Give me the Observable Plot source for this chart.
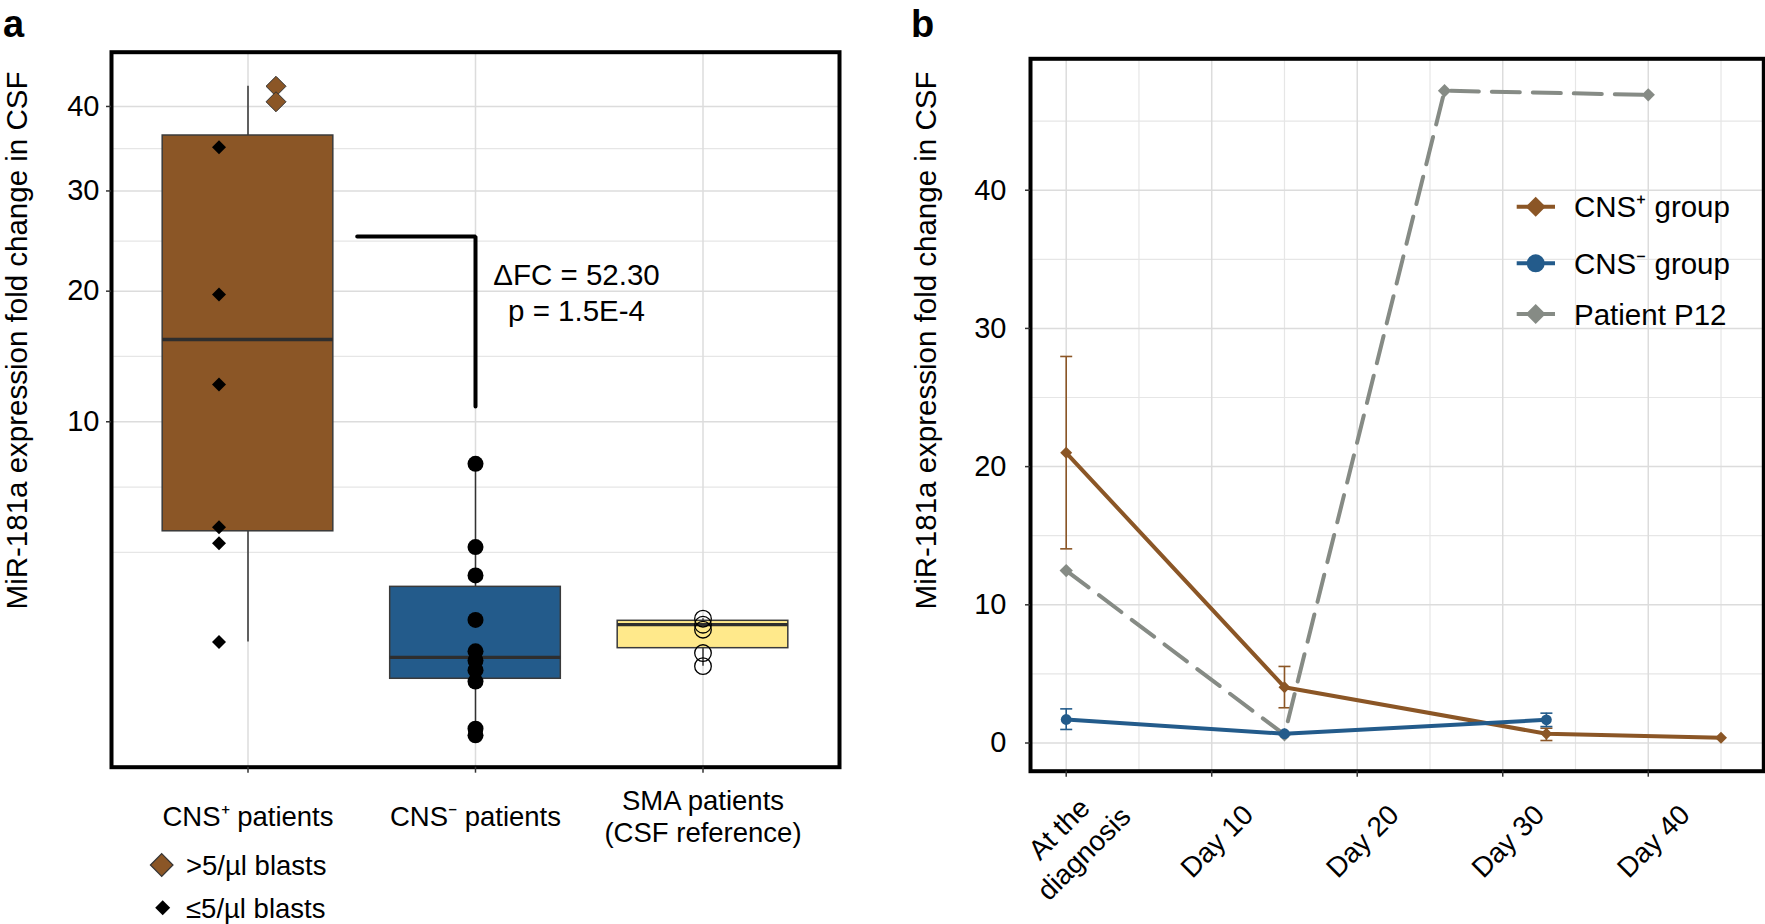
<!DOCTYPE html>
<html><head><meta charset="utf-8">
<script src="https://cdn.jsdelivr.net/npm/d3@7"></script>
<script src="https://cdn.jsdelivr.net/npm/@observablehq/plot@0.6"></script>
<style>
html,body{margin:0;padding:0;background:#fff;}
#root{position:relative;width:1765px;height:924px;overflow:hidden;font-family:"Liberation Sans",Arial,Helvetica,sans-serif;}
#root > svg{position:absolute;top:0;}
</style></head><body><div id="root"></div>
<script>
// ================= DATA: panel a =================
const groupsA = ["CNS\u207A patients", "CNS\u207B patients", "SMA patients\n(CSF reference)"];
const boxLow  = [0.91, 0.0003, 0.506];
const boxQ1   = [4.26, 0.342, 0.795];
const boxMed  = [15.9, 0.64, 1.27];
const boxQ3   = [36.4, 2.27, 1.36];
const boxHigh = [42.6, 7.51, 1.41];
const cnsPosHighBlasts = [42.6, 40.6];                    // >5/µl blasts
const cnsPosLowBlasts  = [35.0, 19.7, 12.5, 4.43, 3.78, 0.91]; // ≤5/µl blasts
const cnsNegValues = [7.51, 3.63, 2.63, 1.38, 0.74, 0.59, 0.45, 0.31, 0.007, 0.0003];
const smaValues = [1.41, 1.27, 1.16, 0.71, 0.506];
const yTicksA = [10, 20, 30, 40];
const bracketX = [1.48, 2, 2];
const bracketY = [25.2, 25.2, 11.0];
const annotText = "\u0394FC = 52.30\np = 1.5E-4";
const annotX = 2.444, annotY = 19.93;

// ================= DATA: panel b =================
const timeTicks  = [0, 10, 20, 30, 40];
const timeLabels = ["At the\ndiagnosis", "Day 10", "Day 20", "Day 30", "Day 40"];
const yTicksB = [0, 10, 20, 30, 40];
const posDays = [0, 15, 33, 45];
const posMean = [21.0, 4.04, 0.67, 0.38];
const posLo   = [14.05, 2.55, 0.18, null];
const posHi   = [27.97, 5.54, 1.07, null];
const negDays = [0, 15, 33];
const negMean = [1.70, 0.67, 1.68];
const negLo   = [0.98, null, 1.19];
const negHi   = [2.47, null, 2.16];
const p12Days = [0, 15, 26, 40];
const p12Val  = [12.48, 0.6, 47.2, 46.9];

// ================= styles =================
const BROWN = "#8b5626", BLUE = "#235b8b", YELLOW = "#ffe98b", GRAY = "#868b85";
const boxFills = [BROWN, BLUE, YELLOW];
const GRID_MAJ = "#dcdcdc", GRID_MIN = "#e6e6e6";
const FONT = '"Liberation Sans", Arial, Helvetica, sans-serif';

// ggplot-like minor breaks (midpoints in transformed space, extended by first step)
function ggMinor(breaks, fwd, inv, domain) {
  const t = breaks.map(fwd);
  const bd = t[1] - t[0];
  const lo = fwd(domain[0]), hi = fwd(domain[1]);
  const b = [...t];
  if (lo < b[0]) b.unshift(b[0] - bd);
  if (hi > b[b.length - 1]) b.push(b[b.length - 1] + bd);
  const out = [];
  for (let i = 0; i < b.length - 1; i++) out.push(b[i], (b[i] + b[i + 1]) / 2);
  out.push(b[b.length - 1]);
  return out.filter(v => v > lo && v < hi && !t.some(m => Math.abs(m - v) < 1e-9)).map(inv);
}
const sqrtF = v => Math.sign(v) * Math.sqrt(Math.abs(v));
const sqrtI = t => Math.sign(t) * t * t;
const idF = v => v;

const root = document.getElementById("root");

// ================= Panel a =================
const domA = [-0.0912, 47.18];
const minorA = ggMinor(yTicksA, sqrtF, sqrtI, domA);
const boxes = groupsA.map((g, i) => ({
  i: i + 1, lo: boxLow[i], q1: boxQ1[i], med: boxMed[i], q3: boxQ3[i], hi: boxHigh[i], fill: boxFills[i]
}));
const bracket = bracketX.map((x, i) => ({x, y: bracketY[i]}));
const HW = 0.375;

const plotA = Plot.plot({
  width: 870, height: 924,
  marginLeft: 111, marginRight: 31, marginTop: 51.7, marginBottom: 157.3,
  style: {background: "transparent", fontFamily: FONT, fontSize: "28px", color: "black", overflow: "visible"},
  x: {domain: [0.4, 3.6], axis: null},
  y: {type: "sqrt", domain: domA, axis: null},
  color: {type: "identity"},
  marks: [
    Plot.ruleY(minorA, {stroke: GRID_MIN, strokeWidth: 1.2}),
    Plot.ruleY(yTicksA, {stroke: GRID_MAJ, strokeWidth: 1.5}),
    Plot.ruleX([1, 2, 3], {stroke: GRID_MAJ, strokeWidth: 1.5}),
    Plot.ruleX(boxes, {x: "i", y1: "lo", y2: "q1", stroke: "#333", strokeWidth: 1.5}),
    Plot.ruleX(boxes, {x: "i", y1: "q3", y2: "hi", stroke: "#333", strokeWidth: 1.5}),
    Plot.rect(boxes, {x1: d => d.i - HW, x2: d => d.i + HW, y1: "q1", y2: "q3", fill: d => d.fill, stroke: "#3a3a3a", strokeWidth: 1.5}),
    Plot.ruleY(boxes, {y: "med", x1: d => d.i - HW, x2: d => d.i + HW, stroke: "#2e2e2e", strokeWidth: 3.3}),
    Plot.dot(cnsPosLowBlasts, {x: d => 1, y: d => d, symbol: "diamond2", r: 6.3, fill: "black", dx: -29}),
    Plot.dot(cnsPosHighBlasts, {x: d => 1, y: d => d, symbol: "diamond2", r: 9, fill: BROWN, stroke: "#333", strokeWidth: 1, dx: 28}),
    Plot.dot(cnsNegValues, {x: d => 2, y: d => d, r: 8, fill: "black"}),
    Plot.dot(smaValues, {x: d => 3, y: d => d, r: 8.3, fill: "none", stroke: "black", strokeWidth: 1.3}),
    Plot.line(bracket, {x: "x", y: "y", stroke: "black", strokeWidth: 4, strokeLinejoin: "miter"}),
    Plot.text([annotText], {x: d => annotX, y: d => annotY, text: d => d, fontSize: 29.5, lineHeight: 1.22, textAnchor: "middle", lineAnchor: "middle", fill: "black"}),
    Plot.frame({stroke: "black", strokeWidth: 4}),
    Plot.axisY(yTicksA, {tickSize: 5, tickPadding: 7, fontSize: 29, stroke: "#333", strokeWidth: 1.5, label: null}),
    Plot.axisX([1, 2, 3], {tickSize: 6, tickPadding: 42.8, fontSize: 27.5, lineAnchor: "middle", lineHeight: 1.17,
      tickFormat: i => groupsA[i - 1], stroke: "#333", strokeWidth: 1.5, label: null})
  ]
});
plotA.style.left = "0px";
root.appendChild(plotA);

// ================= Panel b =================
const domBx = [-2.454, 47.94], domBy = [-2.04, 49.51];
const minorBx = ggMinor(timeTicks, idF, idF, domBx);
const minorBy = ggMinor(yTicksB, idF, idF, domBy);
const pos = posDays.map((d, i) => ({day: d, v: posMean[i], lo: posLo[i], hi: posHi[i]}));
const neg = negDays.map((d, i) => ({day: d, v: negMean[i], lo: negLo[i], hi: negHi[i]}));
const p12 = p12Days.map((d, i) => ({day: d, v: p12Val[i]}));
const posErr = pos.filter(d => d.lo != null);
const negErr = neg.filter(d => d.lo != null);
const capSymbol = {draw(ctx, size) { const w = Math.sqrt(size / Math.PI); ctx.moveTo(-w, 0); ctx.lineTo(w, 0); }};

function errMarks(data, color) {
  return [
    Plot.ruleX(data, {x: "day", y1: "lo", y2: "hi", stroke: color, strokeWidth: 1.6}),
    Plot.dot(data, {x: "day", y: "lo", symbol: capSymbol, r: 6, fill: "none", stroke: color, strokeWidth: 1.6}),
    Plot.dot(data, {x: "day", y: "hi", symbol: capSymbol, r: 6, fill: "none", stroke: color, strokeWidth: 1.6})
  ];
}

const plotB = Plot.plot({
  width: 885, height: 924,
  marginLeft: 150, marginRight: 1.7, marginTop: 58.3, marginBottom: 153.3,
  style: {background: "transparent", fontFamily: FONT, fontSize: "28px", color: "black", overflow: "visible"},
  x: {domain: domBx, axis: null},
  y: {domain: domBy, axis: null},
  marks: [
    Plot.ruleY(minorBy, {stroke: GRID_MIN, strokeWidth: 1.2}),
    Plot.ruleX(minorBx, {stroke: GRID_MIN, strokeWidth: 1.2}),
    Plot.ruleY(yTicksB, {stroke: GRID_MAJ, strokeWidth: 1.5}),
    Plot.ruleX(timeTicks, {stroke: GRID_MAJ, strokeWidth: 1.5}),
    ...errMarks(posErr, BROWN),
    Plot.line(pos, {x: "day", y: "v", stroke: BROWN, strokeWidth: 4}),
    Plot.dot(pos, {x: "day", y: "v", symbol: "diamond2", r: 5.4, fill: BROWN}),
    Plot.line(p12, {x: "day", y: "v", stroke: GRAY, strokeWidth: 4, strokeDasharray: "28,13"}),
    Plot.dot(p12, {x: "day", y: "v", symbol: "diamond2", r: 6, fill: GRAY}),
    ...errMarks(negErr, BLUE),
    Plot.line(neg, {x: "day", y: "v", stroke: BLUE, strokeWidth: 4}),
    Plot.dot(neg, {x: "day", y: "v", r: 5.4, fill: BLUE}),
    Plot.frame({stroke: "black", strokeWidth: 4}),
    Plot.axisY(yTicksB, {tickSize: 5, tickPadding: 19, fontSize: 29, stroke: "#333", strokeWidth: 1.5, label: null}),
    Plot.axisX(timeTicks, {tickSize: 6, tickFormat: () => "", stroke: "#333", strokeWidth: 1.5, label: null}),
    Plot.axisX(timeTicks, {tickSize: 0, tickPadding: 68.8, tickRotate: -45, textAnchor: "middle", lineAnchor: "middle",
      lineHeight: 1.25, fontSize: 28, dx: 4, tickFormat: d => timeLabels[timeTicks.indexOf(d)], label: null})
  ]
});
plotB.style.left = "880px";
root.appendChild(plotB);

// ================= overlay: panel letters, axis titles, legends =================
const ov = d3.select(root).append("svg")
  .attr("width", 1765).attr("height", 924)
  .style("position", "absolute").style("left", "0px").style("top", "0px")
  .style("font-family", FONT);

ov.append("text").attr("x", 3).attr("y", 36.7).attr("font-size", 38).attr("font-weight", "bold").text("a");
ov.append("text").attr("x", 911).attr("y", 36.7).attr("font-size", 38).attr("font-weight", "bold").text("b");

const yTitle = "MiR-181a expression fold change in CSF";
[[26.5, 340.5], [935.7, 340.5]].forEach(([x, y]) => {
  ov.append("text").attr("transform", `translate(${x},${y}) rotate(-90)`)
    .attr("text-anchor", "middle").attr("font-size", 29.5).text(yTitle);
});

// panel a legend
const legA = [
  {label: ">5/\u00B5l blasts", fill: BROWN, stroke: "#333", h: 11.3, cx: 161.7, cy: 865},
  {label: "\u22645/\u00B5l blasts", fill: "black", stroke: "none", h: 7.5, cx: 162.7, cy: 907.7}
];
legA.forEach(d => {
  ov.append("path").attr("d", `M${d.cx},${d.cy - d.h}L${d.cx + d.h},${d.cy}L${d.cx},${d.cy + d.h}L${d.cx - d.h},${d.cy}Z`)
    .attr("fill", d.fill).attr("stroke", d.stroke).attr("stroke-width", 1.2);
  ov.append("text").attr("x", 186).attr("y", d.cy + 9.8).attr("font-size", 27.5).text(d.label);
});

// panel b legend
const legB = [
  {label: "CNS\u207A group", color: BROWN, sym: "diamond", y: 206.7},
  {label: "CNS\u207B group", color: BLUE, sym: "circle", y: 263.3},
  {label: "Patient P12", color: GRAY, sym: "diamond", y: 314}
];
legB.forEach(d => {
  ov.append("line").attr("x1", 1516.7).attr("x2", 1555).attr("y1", d.y).attr("y2", d.y)
    .attr("stroke", d.color).attr("stroke-width", 4);
  const cx = 1535.7;
  if (d.sym === "circle") ov.append("circle").attr("cx", cx).attr("cy", d.y).attr("r", 9).attr("fill", d.color);
  else { const h = 10; ov.append("path").attr("d", `M${cx},${d.y - h}L${cx + h},${d.y}L${cx},${d.y + h}L${cx - h},${d.y}Z`).attr("fill", d.color); }
  ov.append("text").attr("x", 1574).attr("y", d.y + 10.6).attr("font-size", 29.5).text(d.label);
});
</script>
</body></html>
